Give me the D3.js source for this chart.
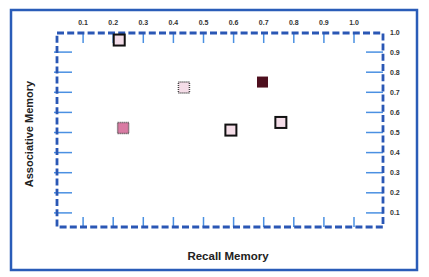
<!DOCTYPE html>
<html>
<head>
<meta charset="utf-8">
<script src="https://cdn.jsdelivr.net/npm/d3@7"></script>
<style>
  body { margin: 0; background: #fff; }
  svg { display: block; font-family: 'Liberation Sans', Arial, sans-serif; }
</style>
</head>
<body>
<svg id="chart" width="429" height="277"></svg>
<script>
const xTicks = [0.1, 0.2, 0.3, 0.4, 0.5, 0.6, 0.7, 0.8, 0.9, 1.0]
const yTicks = [0.1, 0.2, 0.3, 0.4, 0.5, 0.6, 0.7, 0.8, 0.9, 1.0]

// recall / associative memory per item
const recall = [0.22, 0.435, 0.233, 0.696, 0.757, 0.591]
const associative = [0.96, 0.724, 0.522, 0.751, 0.55, 0.512]
const fills = ['#f3dde8', '#f5dde8', '#d97ba3', '#4e0f1e', '#f4dde8', '#f5dee8']
const borders = ['solid', 'dotted', 'dotted', 'none', 'solid', 'solid']

const svg = d3.select('#chart')

const pLeft = 57, pRight = 383, pTop = 33, pBottom = 227

const x = d3.scaleLinear().domain([0, 1]).range([53, 354])
const y = d3.scaleLinear().domain([0, 1]).range([233, 32])

// outer frame
svg.append('rect')
  .attr('x', 11).attr('y', 10)
  .attr('width', 406).attr('height', 260)
  .attr('fill', 'none')
  .attr('stroke', '#2a5cb8')
  .attr('stroke-width', 2.5)

const tickColor = '#4a90e2'

// top / bottom / side ticks
const g = svg.append('g').attr('stroke', tickColor).attr('stroke-width', 1.5)
g.selectAll('line.top').data(xTicks).join('line')
  .attr('class', 'top')
  .attr('x1', d => x(d)).attr('x2', d => x(d))
  .attr('y1', pTop).attr('y2', pTop + 10)
g.selectAll('line.bot').data(xTicks).join('line')
  .attr('class', 'bot')
  .attr('x1', d => x(d)).attr('x2', d => x(d))
  .attr('y1', pBottom - 10).attr('y2', pBottom)
g.selectAll('line.lft').data(yTicks.slice(0, 9)).join('line')
  .attr('class', 'lft')
  .attr('x1', pLeft - 3).attr('x2', pLeft + 15)
  .attr('y1', d => y(d)).attr('y2', d => y(d))
g.selectAll('line.rgt').data(yTicks.slice(0, 9)).join('line')
  .attr('class', 'rgt')
  .attr('x1', pRight - 17).attr('x2', pRight)
  .attr('y1', d => y(d)).attr('y2', d => y(d))

// dashed inner frame
svg.append('rect')
  .attr('x', pLeft).attr('y', pTop)
  .attr('width', pRight - pLeft).attr('height', pBottom - pTop)
  .attr('fill', 'none')
  .attr('stroke', '#2a57b5')
  .attr('stroke-width', 2.8)
  .attr('stroke-dasharray', '7,3.2')

// tick labels
svg.append('g').selectAll('text').data(xTicks).join('text')
  .attr('x', d => x(d)).attr('y', 25)
  .attr('text-anchor', 'middle')
  .attr('font-size', 7).attr('font-weight', 'bold').attr('fill', '#333')
  .text(d => d.toFixed(1))
svg.append('g').selectAll('text').data(yTicks).join('text')
  .attr('x', 390).attr('y', d => y(d) + 2.5)
  .attr('font-size', 7).attr('font-weight', 'bold').attr('fill', '#333')
  .text(d => d.toFixed(1))

// points
const pts = recall.map((r, i) => ({ r, a: associative[i], fill: fills[i], border: borders[i] }))
const s = 11
svg.append('g').selectAll('rect').data(pts).join('rect')
  .attr('x', d => x(d.r) - s / 2).attr('y', d => y(d.a) - s / 2)
  .attr('width', s).attr('height', s)
  .attr('fill', d => d.fill)
  .attr('stroke', d => d.border === 'none' ? 'none' : (d.border === 'solid' ? '#111' : '#444'))
  .attr('stroke-width', d => d.border === 'solid' ? 2 : 1.5)
  .attr('stroke-dasharray', d => d.border === 'dotted' ? '1,1' : null)

// axis titles
svg.append('text')
  .attr('x', 228).attr('y', 260)
  .attr('text-anchor', 'middle')
  .attr('font-size', 11.5).attr('font-weight', 'bold').attr('fill', '#222')
  .text('Recall Memory')
svg.append('text')
  .attr('transform', 'translate(33,134) rotate(-90)')
  .attr('text-anchor', 'middle')
  .attr('font-size', 11).attr('font-weight', 'bold').attr('fill', '#222')
  .text('Associative Memory')
</script>
</body>
</html>
